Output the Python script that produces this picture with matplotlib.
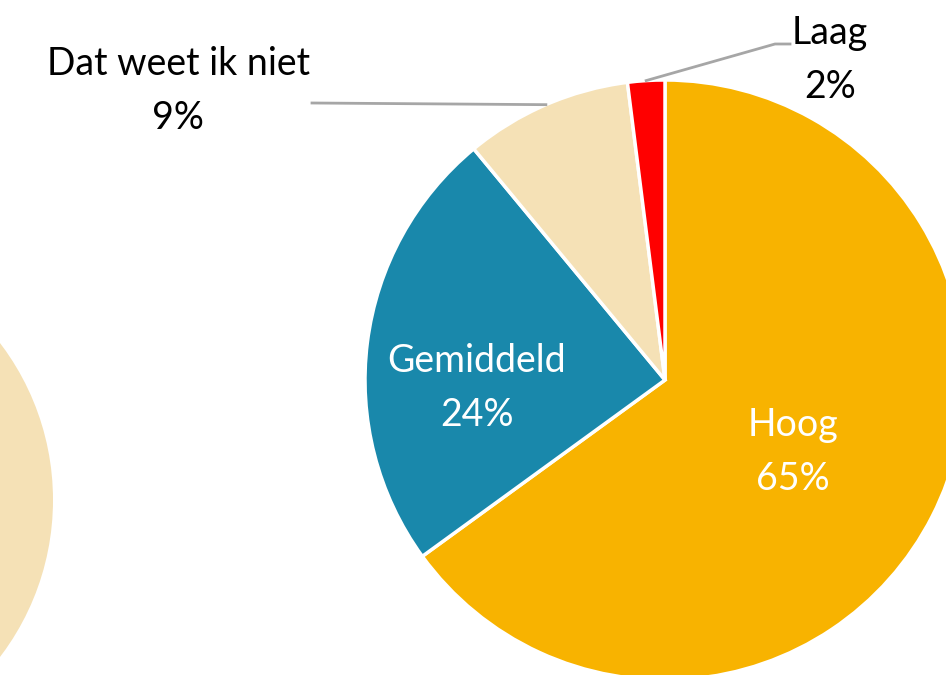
import numpy as np
import matplotlib
matplotlib.use("Agg")
import matplotlib.pyplot as plt
from matplotlib.patches import Circle

plt.rcParams['font.family'] = ['Lato', 'DejaVu Sans']

labels = ["Hoog", "Gemiddeld", "Dat weet ik niet", "Laag"]
values = [65, 24, 9, 2]
colors = ["#F8B300", "#1988AB", "#F5E1B6", "#FF0000"]

W, H = 946, 675
fig = plt.figure(figsize=(W / 100, H / 100), dpi=100)
ax = fig.add_axes([0, 0, 1, 1])

# piece of the neighbouring chart, cut off at the left edge
ax.add_patch(Circle((-206, 175), 259, color="#F5E1B6", lw=0))

cx, cy, r = 665, 295, 300
wedges, _ = ax.pie(values, colors=colors, startangle=90, counterclock=False,
                   center=(cx, cy), radius=r, frame=True,
                   wedgeprops=dict(edgecolor="white", linewidth=2.5))
ax.set_xlim(0, W)
ax.set_ylim(0, H)
ax.set_aspect("equal")
ax.axis("off")

fs = 27
ls = 1.6
# labels inside
ax.text(793, 675 - 452, f"{labels[0]}\n{values[0]}%", color="white", fontsize=fs,
        ha="center", va="center", linespacing=ls)
ax.text(477, 675 - 388, f"{labels[1]}\n{values[1]}%", color="white", fontsize=fs,
        ha="center", va="center", linespacing=ls)

# outside labels with leader lines
def edge_point(w):
    mid = np.deg2rad((w.theta1 + w.theta2) / 2)
    return cx + r * np.cos(mid), cy + r * np.sin(mid)

ex, ey = edge_point(wedges[2])
ax.plot([312, ex], [675 - 103, ey], color="#A6A6A6", lw=2)
ax.text(178, 675 - 91, f"{labels[2]}\n{values[2]}%", color="black", fontsize=fs,
        ha="center", va="center", linespacing=ls)

ex, ey = edge_point(wedges[3])
ax.plot([ex, 775, 790], [ey, 675 - 44, 675 - 44], color="#A6A6A6", lw=2)
ax.text(830, 675 - 60, f"{labels[3]}\n{values[3]}%", color="black", fontsize=fs,
        ha="center", va="center", linespacing=ls)

fig.savefig("out.png", dpi=100)
